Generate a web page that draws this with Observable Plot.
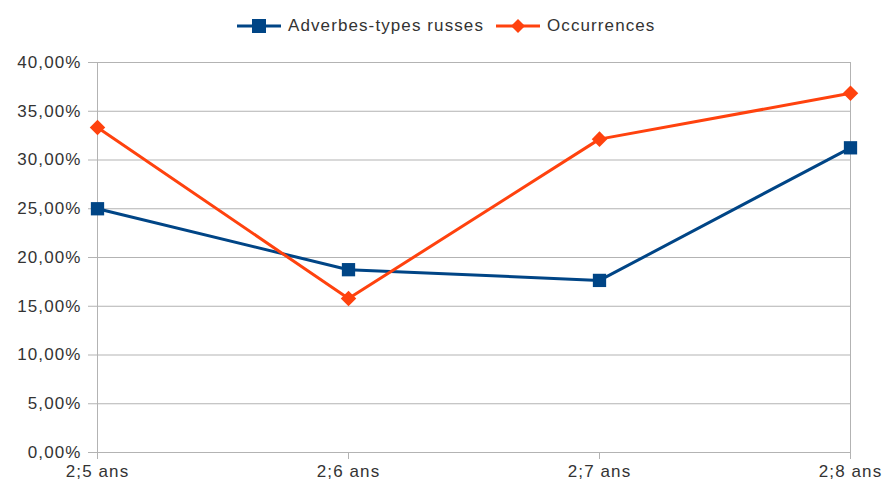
<!DOCTYPE html>
<html><head><meta charset="utf-8">
<script src="https://cdn.jsdelivr.net/npm/d3@7"></script>
<script src="https://cdn.jsdelivr.net/npm/@observablehq/plot@0.6"></script>
<style>
body{margin:0;background:#fff;font-family:"Liberation Sans",Arial,sans-serif;}
#legend{height:50px;position:relative;font-size:17px;letter-spacing:1.1px;color:#333;}
.item{position:absolute;top:16px;display:flex;align-items:center;}
.item svg{margin-right:7px;}
#chart svg text{letter-spacing:1.1px;}
</style></head>
<body>
<div id="legend"></div>
<div id="chart"></div>
<script>
const categories = ["2;5 ans","2;6 ans","2;7 ans","2;8 ans"];
const seriesNames = ["Adverbes-types russes","Occurrences"];
const adverbes = [25.00, 18.75, 17.65, 31.25];
const occurrences = [33.33, 15.79, 32.14, 36.84];
const yTicks = [0,5,10,15,20,25,30,35,40];
const colors = ["#004586","#ff420e"];

const data = [];
categories.forEach((c,i)=>{
  data.push({cat:c, series:seriesNames[0], v:adverbes[i]});
  data.push({cat:c, series:seriesNames[1], v:occurrences[i]});
});
const fmt = d => d.toFixed(2).replace(".",",") + "%";

const plot = Plot.plot({
  width: 886, height: 435,
  marginLeft: 96, marginRight: 35, marginTop: 12, marginBottom: 33,
  style: {fontFamily: '"Liberation Sans",Arial,sans-serif', fontSize: "17px", color: "#333"},
  x: {type: "point", domain: categories, label: null, padding: 0},
  y: {domain: [0,40], label: null},
  color: {domain: seriesNames, range: colors},
  marks: [
    Plot.ruleY(yTicks, {stroke: "#b3b3b3", strokeWidth: 1}),
    Plot.ruleX([categories[0], categories[categories.length-1]], {stroke: "#b3b3b3"}),
    Plot.axisY({ticks: yTicks, tickFormat: fmt, tickSize: 8, tickPadding: 7, stroke: "#b3b3b3", fontSize: 17}),
    Plot.axisX({tickSize: 7, tickPadding: 5, stroke: "#b3b3b3", fontSize: 17}),
    Plot.line(data, {x: "cat", y: "v", stroke: "series", strokeWidth: 3}),
    Plot.dot(data.filter(d=>d.series===seriesNames[0]), {x:"cat", y:"v", symbol:"square", r:7.5, fill: colors[0], stroke:"none"}),
    Plot.dot(data.filter(d=>d.series===seriesNames[1]), {x:"cat", y:"v", symbol:"diamond2", r:7, fill: colors[1], stroke:"none"})
  ]
});
document.getElementById("chart").appendChild(plot);

// legend
const lg = d3.select("#legend");
const lefts = [237, 496];
seriesNames.forEach((name,i)=>{
  const it = lg.append("div").attr("class","item").style("left", lefts[i]+"px");
  const s = it.append("svg").attr("width",44).attr("height",20);
  s.append("line").attr("x1",0).attr("x2",44).attr("y1",10).attr("y2",10).attr("stroke",colors[i]).attr("stroke-width",3);
  if(i===0) s.append("rect").attr("x",15).attr("y",3).attr("width",14).attr("height",14).attr("fill",colors[i]);
  else s.append("path").attr("d","M22,3L29,10L22,17L15,10Z").attr("fill",colors[i]);
  it.append("span").text(name);
});
</script>
</body></html>
